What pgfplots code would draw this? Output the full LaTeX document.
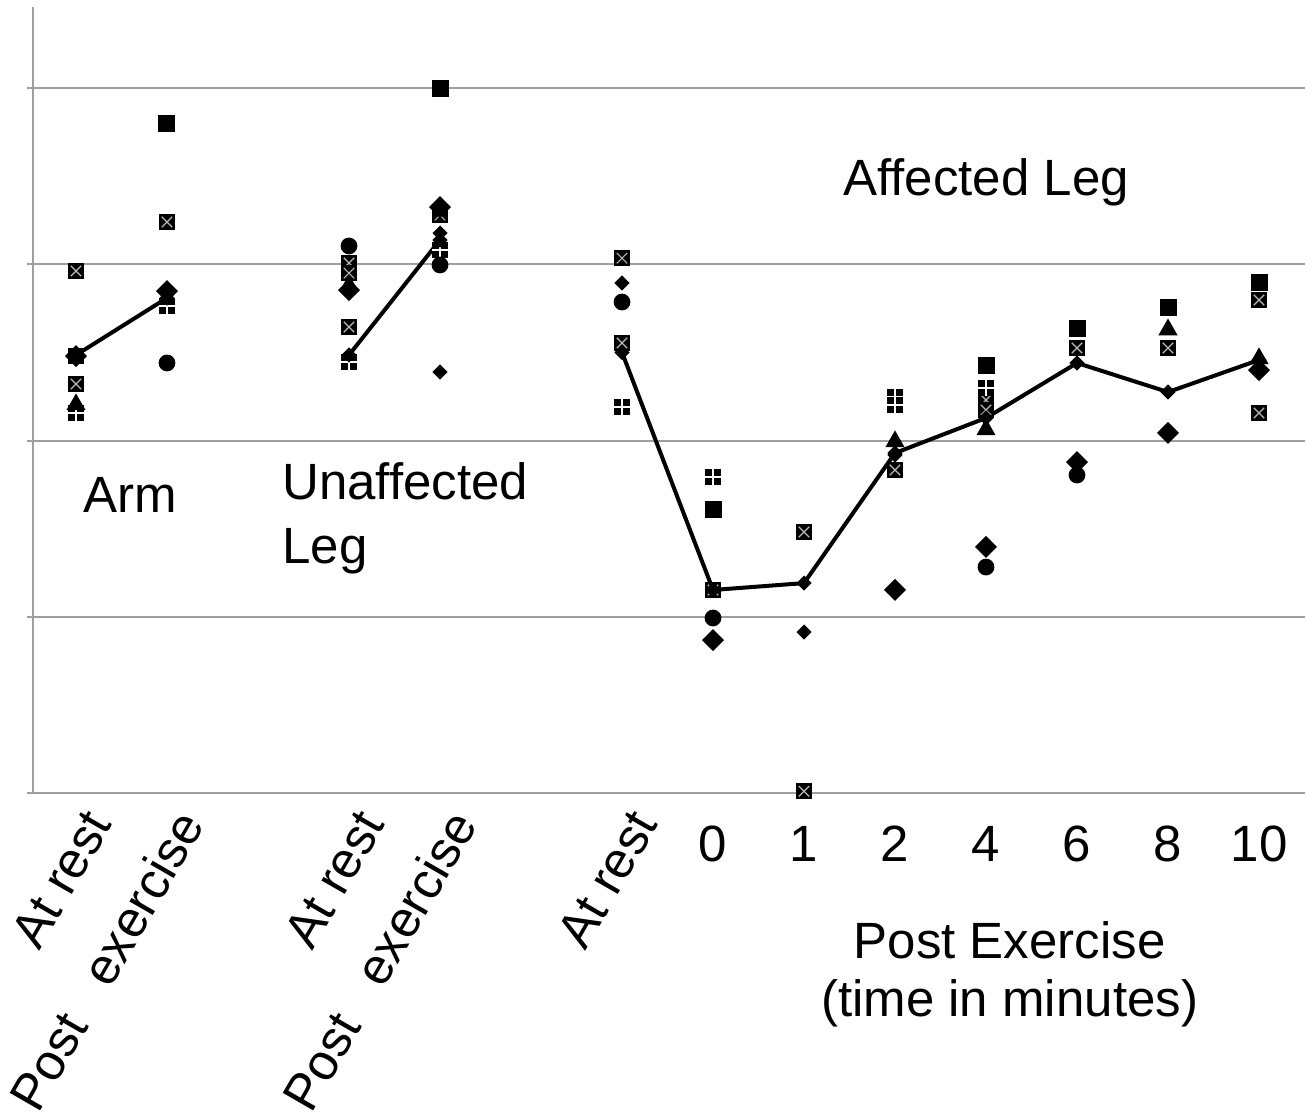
\documentclass[border=0pt]{standalone}
\usepackage{fontspec}
\setmainfont{Liberation Sans}
\usepackage{pgfplots}
\pgfplotsset{compat=1.18}
\pgfdeclareplotmark{fsq}{\pgfpathrectangle{\pgfpoint{-4.25pt}{-4.25pt}}{\pgfpoint{8.5pt}{8.5pt}}\pgfusepathqfill}
\pgfdeclareplotmark{xsq}{%
  \pgfpathrectangle{\pgfpoint{-4pt}{-4pt}}{\pgfpoint{8pt}{8pt}}\pgfusepathqfill
  \begin{pgfscope}\pgfsetstrokecolor{gray!55}\pgfsetlinewidth{0.6pt}%
  \pgfpathmoveto{\pgfpoint{-2.6pt}{-2.6pt}}\pgfpathlineto{\pgfpoint{2.6pt}{2.6pt}}%
  \pgfpathmoveto{\pgfpoint{-2.6pt}{2.6pt}}\pgfpathlineto{\pgfpoint{2.6pt}{-2.6pt}}\pgfusepathqstroke\end{pgfscope}}
\pgfdeclareplotmark{psq}{%
  \pgfpathrectangle{\pgfpoint{-4pt}{-4pt}}{\pgfpoint{8pt}{8pt}}\pgfusepathqfill
  \begin{pgfscope}\pgfsetstrokecolor{white}\pgfsetlinewidth{0.8pt}%
  \pgfpathmoveto{\pgfpoint{0pt}{-4pt}}\pgfpathlineto{\pgfpoint{0pt}{4pt}}%
  \pgfpathmoveto{\pgfpoint{-4pt}{0pt}}\pgfpathlineto{\pgfpoint{4pt}{0pt}}\pgfusepathqstroke\end{pgfscope}}
\pgfdeclareplotmark{dia}{\pgfpathmoveto{\pgfpoint{0pt}{5.5pt}}\pgfpathlineto{\pgfpoint{5.5pt}{0pt}}\pgfpathlineto{\pgfpoint{0pt}{-5.5pt}}\pgfpathlineto{\pgfpoint{-5.5pt}{0pt}}\pgfpathclose\pgfusepathqfill}
\pgfdeclareplotmark{sdia}{\pgfpathmoveto{\pgfpoint{0pt}{3.8pt}}\pgfpathlineto{\pgfpoint{3.8pt}{0pt}}\pgfpathlineto{\pgfpoint{0pt}{-3.8pt}}\pgfpathlineto{\pgfpoint{-3.8pt}{0pt}}\pgfpathclose\pgfusepathqfill}
\pgfdeclareplotmark{circ}{\pgfpathcircle{\pgfpointorigin}{4.2pt}\pgfusepathqfill}
\pgfdeclareplotmark{tri}{\pgfpathmoveto{\pgfpoint{0pt}{4.8pt}}\pgfpathlineto{\pgfpoint{4.8pt}{-3.6pt}}\pgfpathlineto{\pgfpoint{-4.8pt}{-3.6pt}}\pgfpathclose\pgfusepathqfill}
\newcommand{\lbl}{\fontsize{25.5}{30}\selectfont}
\begin{document}
\begin{tikzpicture}
\begin{axis}[
  scale only axis, width=635.75pt, height=393pt,
  xmin=-0.4725, xmax=13.5, ymin=0, ymax=4.46,
  axis x line=bottom, axis y line=left,
  axis line style={gray!75, line width=1.2pt, -},
  ytick={0,1,2,3,4}, yticklabels={},
  ymajorgrids, grid style={gray!75, line width=1pt},
  ytick style={gray!75, line width=1pt}, tick align=outside, major tick length=3pt,
  xtick={7,8,9,10,11,12,13}, xticklabels={0,1,2,4,6,8,10},
  xtick style={draw=none},
  xticklabel style={yshift=-10pt},
  extra x ticks={0,1,3,4,6},
  extra x tick labels={At rest,Post\ \ \ exercise,At rest,Post\ \ \ exercise,At rest},
  extra x tick style={xtick style={draw=none}, grid=none, xticklabel style={yshift=11pt, xshift=2pt, rotate=60, anchor=north east}},
  tick label style={font=\lbl},
  clip=false,
]
\coordinate (ll) at (rel axis cs:0,0);
\addplot[only marks, mark=xsq, black] coordinates {(0,2.962)(0,2.479)(0,2.321)(1,3.240)(3,3.007)(3,2.950)(3,2.644)(4,3.279)(6,3.035)(6,2.553)(7,1.152)(8,1.481)(8,0.01)(9,1.833)(10,2.230)(10,2.173)(11,2.525)(12,2.525)(13,2.797)(13,2.156)};
\addplot[only marks, mark=psq, black] coordinates {(0,2.156)(1,2.763)(3,2.445)(4,3.081)(6,2.190)(7,1.793)(9,2.247)(9,2.201)(10,2.298)};
\addplot[only marks, mark=fsq, black] coordinates {(1,3.801)(4,4.000)(7,1.606)(10,2.428)(11,2.638)(12,2.757)(13,2.894)};
\addplot[only marks, mark=circ, black] coordinates {(1,2.440)(3,3.104)(4,2.996)(6,2.786)(7,0.993)(10,1.282)(11,1.804)};
\addplot[only marks, mark=tri, black] coordinates {(0,2.213)(3,2.888)(9,2.003)(10,2.071)(12,2.638)(13,2.474)};
\addplot[only marks, mark=dia, black] coordinates {(0,2.479)(1,2.848)(3,2.854)(4,3.325)(7,0.868)(9,1.152)(10,1.396)(11,1.878)(12,2.043)(13,2.400)};
\addplot[only marks, mark=sdia, black] coordinates {(4,3.177)(4,2.389)(6,2.894)(8,0.913)(9,1.918)};
\addplot[black, line width=2pt, mark=sdia] coordinates {(0,2.485)(1,2.809)};
\addplot[black, line width=2pt, mark=sdia] coordinates {(3,2.485)(4,3.138)};
\addplot[black, line width=2pt, mark=sdia] coordinates {(6,2.50)(7,1.152)(8,1.191)(9,1.929)(10,2.128)(11,2.440)(12,2.275)(13,2.457)};
\node[anchor=base west, inner sep=0, font=\lbl] at (axis cs:0.077,1.594) {Arm};
\node[anchor=base west, inner sep=0, font=\lbl] at (axis cs:2.264,1.668) {Unaffected};
\node[anchor=base west, inner sep=0, font=\lbl] at (axis cs:2.264,1.305) {Leg};
\node[anchor=base west, inner sep=0, font=\lbl] at (axis cs:8.429,3.393) {Affected Leg};
\node[anchor=base, inner sep=0, font=\lbl] at (axis cs:10.26,-0.939) {Post Exercise};
\node[anchor=base, inner sep=0, font=\lbl] at (axis cs:10.26,-1.271) {(time in minutes)};
\end{axis}
\pgfresetboundingbox
\path[use as bounding box] (ll) ++(-16.5pt,-159.5pt) rectangle ++(653pt,556pt);
\end{tikzpicture}
\end{document}
